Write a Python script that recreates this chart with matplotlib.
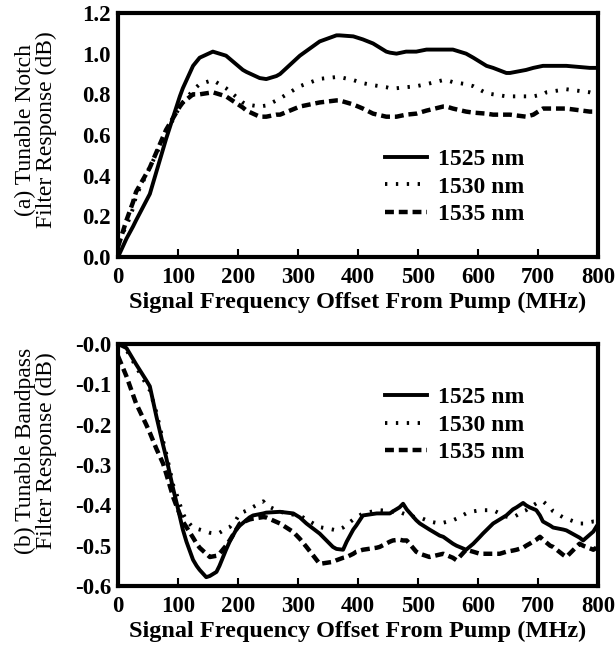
import numpy as np
import matplotlib.pyplot as plt

plt.rcParams['font.family'] = ['Liberation Serif', 'DejaVu Serif']

# (a) tunable notch filter response
fa = [0, 14, 25, 30, 53, 80, 103, 108, 125, 136, 158, 180, 208, 214, 236, 247, 264, 270, 303, 336, 364,
      369, 392, 408, 425, 447, 453, 464, 480, 497, 514, 542, 547, 558, 580, 592, 614, 625, 647, 653,
      680, 692, 708, 714, 747, 786, 792, 797]
a1525 = [0.0, 0.09, 0.15, 0.18, 0.31, 0.58, 0.79, 0.83, 0.94, 0.98, 1.01, 0.99, 0.92, 0.91, 0.88, 0.875,
         0.89, 0.9, 0.99, 1.06, 1.09, 1.09, 1.085, 1.07, 1.05, 1.01, 1.005, 1.0, 1.01, 1.01, 1.02, 1.02,
         1.02, 1.02, 1.0, 0.98, 0.94, 0.93, 0.905, 0.905, 0.92, 0.93, 0.94, 0.94, 0.94, 0.93, 0.93, 0.93]
a1530 = [0.08, 0.15, 0.24, 0.3, 0.44, 0.61, 0.74, 0.76, 0.82, 0.85, 0.87, 0.83, 0.76, 0.75, 0.74, 0.745,
         0.77, 0.78, 0.84, 0.876, 0.885, 0.885, 0.87, 0.855, 0.845, 0.835, 0.83, 0.83, 0.835, 0.84, 0.85,
         0.87, 0.87, 0.86, 0.85, 0.84, 0.805, 0.8, 0.79, 0.79, 0.79, 0.79, 0.80, 0.81, 0.825, 0.81, 0.805, 0.80]
a1535 = [0.05, 0.18, 0.27, 0.32, 0.44, 0.625, 0.74, 0.76, 0.80, 0.80, 0.81, 0.79, 0.735, 0.72, 0.69, 0.69,
         0.70, 0.70, 0.74, 0.76, 0.77, 0.77, 0.75, 0.73, 0.705, 0.69, 0.69, 0.69, 0.70, 0.705, 0.72, 0.74,
         0.74, 0.73, 0.715, 0.71, 0.705, 0.70, 0.70, 0.70, 0.69, 0.70, 0.73, 0.73, 0.73, 0.715, 0.715, 0.71]

# (b) tunable bandpass filter response
fb = [0, 14, 30, 47, 53, 64, 75, 80, 92, 97, 108, 114, 125, 131, 136, 147, 153, 164, 169, 180, 186, 197,
      203, 219, 225, 242, 247, 270, 292, 303, 314, 336, 358, 364, 375, 381, 392, 397, 408, 431, 436, 453,
      458, 469, 475, 481, 497, 503, 519, 536, 542, 558, 564, 580, 592, 603, 608, 625, 636, 647, 658, 664,
      675, 680, 686, 697, 703, 708, 720, 725, 742, 747, 769, 775, 792, 797]
b1525 = [0.0, -0.01, -0.05, -0.09, -0.105, -0.18, -0.25, -0.28, -0.36, -0.39, -0.46, -0.49, -0.535, -0.55,
         -0.56, -0.578, -0.575, -0.565, -0.55, -0.51, -0.49, -0.46, -0.45, -0.43, -0.425, -0.42, -0.418,
         -0.416, -0.42, -0.43, -0.445, -0.47, -0.503, -0.508, -0.51, -0.49, -0.46, -0.45, -0.425, -0.42,
         -0.42, -0.42, -0.415, -0.405, -0.396, -0.41, -0.437, -0.445, -0.46, -0.475, -0.478, -0.495, -0.5,
         -0.51, -0.495, -0.478, -0.47, -0.445, -0.435, -0.425, -0.41, -0.405, -0.394, -0.4, -0.405, -0.412,
         -0.425, -0.44, -0.45, -0.455, -0.46, -0.462, -0.48, -0.487, -0.465, -0.453]
b1530 = [-0.005, -0.015, -0.056, -0.1, -0.115, -0.17, -0.24, -0.27, -0.35, -0.37, -0.42, -0.437, -0.455,
         -0.458, -0.46, -0.465, -0.468, -0.47, -0.468, -0.458, -0.454, -0.435, -0.42, -0.41, -0.404, -0.39,
         -0.4, -0.416, -0.423, -0.425, -0.435, -0.454, -0.46, -0.462, -0.455, -0.448, -0.435, -0.43, -0.42,
         -0.413, -0.412, -0.414, -0.416, -0.416, -0.42, -0.423, -0.43, -0.43, -0.44, -0.445, -0.443,
         -0.437, -0.433, -0.42, -0.415, -0.412, -0.412, -0.412, -0.42, -0.428, -0.43, -0.425, -0.415,
         -0.412, -0.405, -0.395, -0.39, -0.39, -0.405, -0.415, -0.43, -0.433, -0.445, -0.445, -0.44, -0.44]
b1535 = [-0.03, -0.08, -0.147, -0.2, -0.22, -0.26, -0.296, -0.32, -0.38, -0.4, -0.44, -0.454, -0.48,
         -0.495, -0.505, -0.52, -0.528, -0.525, -0.52, -0.5, -0.487, -0.46, -0.445, -0.435, -0.433, -0.429,
         -0.43, -0.445, -0.466, -0.483, -0.503, -0.545, -0.54, -0.536, -0.53, -0.528, -0.52, -0.515, -0.51,
         -0.505, -0.503, -0.49, -0.487, -0.485, -0.487, -0.487, -0.515, -0.52, -0.528, -0.522, -0.52,
         -0.53, -0.536, -0.51, -0.515, -0.52, -0.52, -0.52, -0.52, -0.515, -0.512, -0.51, -0.505, -0.5,
         -0.495, -0.485, -0.478, -0.485, -0.5, -0.503, -0.523, -0.528, -0.495, -0.5, -0.51, -0.505]

xticks = [0, 100, 200, 300, 400, 500, 600, 700, 800]
yticks_a = [0.0, 0.2, 0.4, 0.6, 0.8, 1.0, 1.2]
yticks_b = [0.0, -0.1, -0.2, -0.3, -0.4, -0.5, -0.6]
ylabels_b = ['-0.0', '-0.1', '-0.2', '-0.3', '-0.4', '-0.5', '-0.6']

fig = plt.figure(figsize=(6.16, 6.49), dpi=100)
ax1 = fig.add_axes([0.1916, 0.604, 0.7794, 0.376])
ax2 = fig.add_axes([0.1916, 0.097, 0.7794, 0.373])

styles = [('1525 nm', '-', 2.8), ('1530 nm', (0, (0.6, 2.2)), 2.8), ('1535 nm', (0, (2.0, 1.1)), 3.2)]

for ax, x, ys in [(ax1, fa, [a1525, a1530, a1535]), (ax2, fb, [b1525, b1530, b1535])]:
    for (lab, ls, lw), y in zip(styles, ys):
        ax.plot(x, y, color='black', linestyle=ls, linewidth=lw, label=lab)
    ax.set_xlim(0, 800)
    ax.set_xticks(xticks)
    ax.tick_params(axis='x', direction='in', length=6, width=1.5, labelsize=16.5, pad=7)
    ax.tick_params(axis='y', length=0, labelsize=16.5, pad=5)
    for lbl in ax.get_xticklabels() + ax.get_yticklabels():
        lbl.set_fontweight('bold')
    for s in ax.spines.values():
        s.set_linewidth(3)
    ax.set_xlabel('Signal Frequency Offset From Pump (MHz)', fontsize=17.5, fontweight='bold', labelpad=3)

ax1.set_ylim(0, 1.2)
ax1.set_yticks(yticks_a)
ax1.set_yticklabels(['%.1f' % v for v in yticks_a], fontweight='bold')
ax1.set_ylabel('(a) Tunable Notch\nFilter Response (dB)', fontsize=17, linespacing=1.0)
ax1.yaxis.set_label_coords(-0.127, 0.52)
ax1.legend(loc='center left', bbox_to_anchor=(0.556, 0.287), frameon=False, borderpad=0, borderaxespad=0,
           prop={'size': 17, 'weight': 'bold'}, handlelength=1.78, labelspacing=0.25, handletextpad=0.47)

ax2.set_ylim(-0.6, 0)
ax2.set_yticks(yticks_b)
ax2.set_yticklabels(ylabels_b, fontweight='bold')
ax2.set_ylabel('(b) Tunable Bandpass\nFilter Response (dB)', fontsize=17, linespacing=1.0)
ax2.yaxis.set_label_coords(-0.127, 0.56)
ax2.legend(loc='center left', bbox_to_anchor=(0.556, 0.665), frameon=False, borderpad=0, borderaxespad=0,
           prop={'size': 17, 'weight': 'bold'}, handlelength=1.78, labelspacing=0.25, handletextpad=0.47)

fig.savefig('out.png', dpi=100)
